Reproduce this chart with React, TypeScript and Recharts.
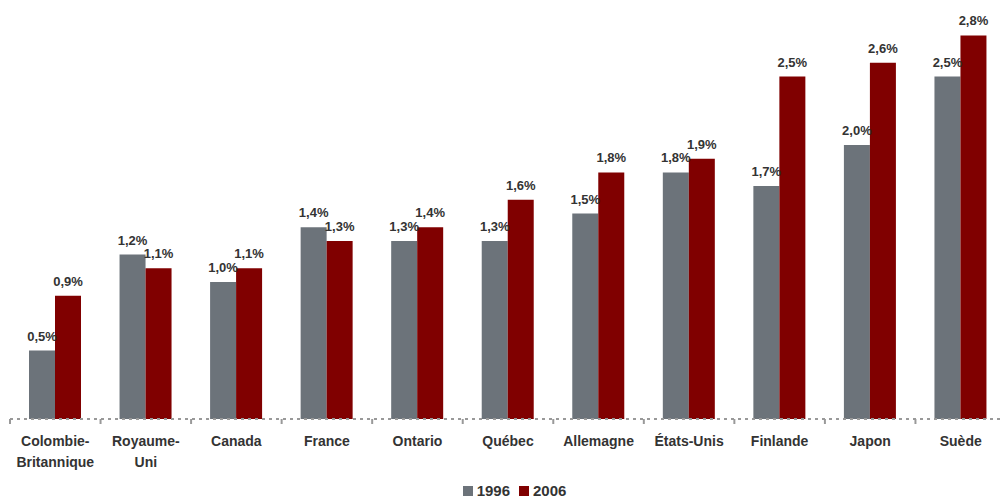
import React from "react";
import { BarChart, Bar, XAxis, YAxis, Legend, LabelList } from "recharts";

const categories = [
  "Colombie-\nBritannique",
  "Royaume-\nUni",
  "Canada",
  "France",
  "Ontario",
  "Québec",
  "Allemagne",
  "États-Unis",
  "Finlande",
  "Japon",
  "Suède",
];
const values1996 = [0.5, 1.2, 1.0, 1.4, 1.3, 1.3, 1.5, 1.8, 1.7, 2.0, 2.5];
const values2006 = [0.9, 1.1, 1.1, 1.3, 1.4, 1.6, 1.8, 1.9, 2.5, 2.6, 2.8];

const GRAY = "#6c737a";
const RED = "#800000";
const TEXT = "#333333";
const FONT = "Arial, 'Liberation Sans', sans-serif";

const CHART_W = 1006;
const CHART_H = 498;
const MARGIN = { top: 8, right: 0, left: 10, bottom: 0 };
const BAND = (CHART_W - MARGIN.left - MARGIN.right) / categories.length;

const data = categories.map((name, i) => ({
  name,
  y1996: values1996[i],
  y2006: values2006[i],
}));

const fmt = (v: number) => `${v.toFixed(1).replace(".", ",")}%`;

function CategoryTick(props: any) {
  const { x, y, payload } = props;
  const lines = String(payload.value).split("\n");
  const bx = x - BAND / 2;
  return (
    <g>
      <line x1={bx} y1={y} x2={bx} y2={y + 5} stroke="#999" strokeWidth={2} />
      <text
        x={x}
        y={y}
        textAnchor="middle"
        fill={TEXT}
        fontFamily={FONT}
        fontWeight="bold"
        fontSize={14}
      >
        {lines.map((l, i) => (
          <tspan key={i} x={x} dy={i === 0 ? 27 : 21}>
            {l}
          </tspan>
        ))}
      </text>
    </g>
  );
}

function LegendContent() {
  const items = [
    { label: "1996", color: GRAY },
    { label: "2006", color: RED },
  ];
  return (
    <div
      style={{
        display: "flex",
        justifyContent: "center",
        alignItems: "center",
        fontFamily: FONT,
        fontWeight: "bold",
        fontSize: 15,
        color: TEXT,
        paddingLeft: 32,
      }}
    >
      {items.map((it) => (
        <span
          key={it.label}
          style={{ display: "inline-flex", alignItems: "center", marginRight: 9 }}
        >
          <span
            style={{
              display: "inline-block",
              width: 10,
              height: 10,
              background: it.color,
              marginRight: 4,
            }}
          />
          {it.label}
        </span>
      ))}
    </div>
  );
}

export default function App() {
  return (
    <div
      style={{
        position: "absolute",
        left: 0,
        top: 0,
        width: 1001,
        height: CHART_H,
        overflow: "hidden",
        background: "#fff",
      }}
    >
      <BarChart
        width={CHART_W}
        height={CHART_H}
        data={data}
        margin={MARGIN}
        barGap={0}
        barSize={26}
      >
        <XAxis
          dataKey="name"
          interval={0}
          tickLine={false}
          tickSize={0}
          tickMargin={0}
          height={63}
          axisLine={{ stroke: "#999", strokeWidth: 2, strokeDasharray: "3 4" }}
          tick={<CategoryTick />}
        />
        <YAxis hide domain={[0, 3]} />
        <Legend
          verticalAlign="bottom"
          content={<LegendContent />}
          wrapperStyle={{ left: 0, width: CHART_W, bottom: 0, height: 16 }}
        />
        <Bar dataKey="y1996" name="1996" fill={GRAY} isAnimationActive={false}>
          <LabelList
            dataKey="y1996"
            position="top"
            offset={10}
            formatter={(v: any) => fmt(Number(v))}
            style={{ fill: TEXT, fontFamily: FONT, fontWeight: "bold", fontSize: 13 }}
          />
        </Bar>
        <Bar dataKey="y2006" name="2006" fill={RED} isAnimationActive={false}>
          <LabelList
            dataKey="y2006"
            position="top"
            offset={10}
            formatter={(v: any) => fmt(Number(v))}
            style={{ fill: TEXT, fontFamily: FONT, fontWeight: "bold", fontSize: 13 }}
          />
        </Bar>
      </BarChart>
    </div>
  );
}
